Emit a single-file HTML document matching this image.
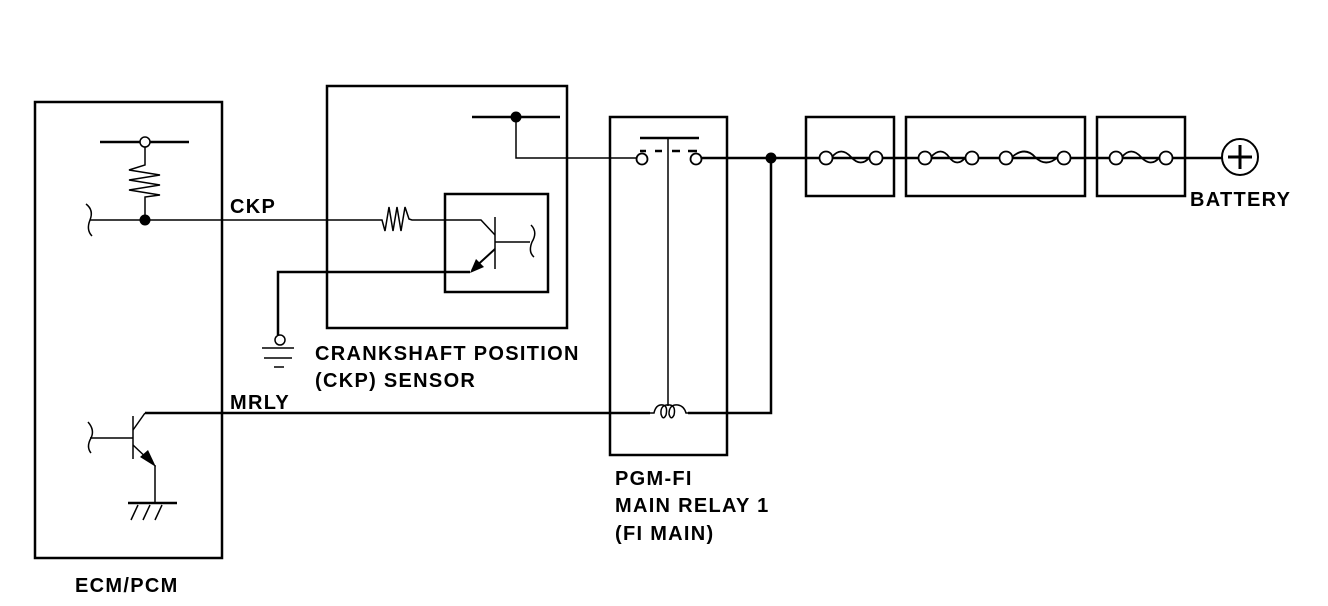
<!DOCTYPE html>
<html><head><meta charset="utf-8"><style>
html,body{margin:0;padding:0;background:#fff;}
svg{display:block;}
text{font-family:"Liberation Sans",Arial,sans-serif;font-weight:bold;font-size:20px;letter-spacing:1.3px;fill:#000;}
</style></head><body>
<svg width="1328" height="606" viewBox="0 0 1328 606" xmlns="http://www.w3.org/2000/svg">
<g fill="none" stroke="#000">
<rect x="35" y="102" width="187" height="456" stroke-width="2.5"/>
<rect x="327" y="86" width="240" height="242" stroke-width="2.5"/>
<rect x="445" y="194" width="103" height="98" stroke-width="2.5"/>
<rect x="610" y="117" width="117" height="338" stroke-width="2.5"/>
<rect x="806" y="117" width="88" height="79" stroke-width="2.5"/>
<rect x="906" y="117" width="179" height="79" stroke-width="2.5"/>
<rect x="1097" y="117" width="88" height="79" stroke-width="2.5"/>

<line x1="100" y1="142" x2="189" y2="142" stroke-width="2.5"/>
<circle cx="145" cy="142" r="5" fill="#fff" stroke-width="1.5"/>
<polyline points="145,147 145,165 129,170 160,175 129,180 160,185 129,190 160,195 145,197 145,219" stroke-width="1.5"/>
<circle cx="145" cy="220" r="5.5" fill="#000" stroke="none"/>
<line x1="90" y1="220" x2="378" y2="220" stroke-width="1.5"/>
<path d="M86,204 Q94,210 90,220 Q86,230 92,236" stroke-width="1.5"/>
<polyline points="378,220 382,220 385,231 389,207 393,231 397,207 401,231 405,207 409,219 412,220 481,220 495,235" stroke-width="1.5"/>
<line x1="495" y1="217" x2="495" y2="269" stroke-width="1.5"/>
<line x1="495" y1="242" x2="530" y2="242" stroke-width="1.5"/>
<path d="M531,225 Q538,232 532,242 Q528,252 534,257" stroke-width="1.5"/>
<line x1="495" y1="249" x2="472" y2="270" stroke-width="2"/>
<polyline points="470,272 278,272 278,335" stroke-width="2.5"/>
<circle cx="280" cy="340" r="5" fill="#fff" stroke-width="1.5"/>
<line x1="262" y1="348" x2="294" y2="348" stroke-width="1.5"/>
<line x1="264" y1="358" x2="292" y2="358" stroke-width="1.5"/>
<line x1="274" y1="367" x2="284" y2="367" stroke-width="1.5"/>
<line x1="472" y1="117" x2="560" y2="117" stroke-width="2.5"/>
<circle cx="516" cy="117" r="5.5" fill="#000" stroke="none"/>
<polyline points="516,117 516,158 636,158" stroke-width="1.5"/>
<line x1="640" y1="138" x2="699" y2="138" stroke-width="2.5"/>
<line x1="668" y1="138" x2="668" y2="406" stroke-width="1.5"/>
<circle cx="642" cy="159" r="5.5" fill="#fff" stroke-width="1.8"/>
<circle cx="696" cy="159" r="5.5" fill="#fff" stroke-width="1.8"/>
<line x1="640" y1="151" x2="646" y2="151" stroke-width="2.5"/>
<line x1="655" y1="151" x2="662" y2="151" stroke-width="2.5"/>
<line x1="672" y1="151" x2="680" y2="151" stroke-width="2.5"/>
<line x1="688" y1="151" x2="697" y2="151" stroke-width="2.5"/>
<line x1="702" y1="158" x2="1222" y2="158" stroke-width="2.5"/>
<circle cx="771" cy="158" r="5.5" fill="#000" stroke="none"/>
<polyline points="771,158 771,413 688,413" stroke-width="2.5"/>
<path d="M650,413 L654,413 Q656,404 663,405 Q668,406 666,415 Q663,421 661,414 Q660,404 670,405 Q676,406 674,415 Q671,421 669,414 Q669,404 678,405 Q684,406 686,413 L688,413" stroke-width="1.5"/>
<line x1="145" y1="413" x2="650" y2="413" stroke-width="2.5"/>
<line x1="133" y1="416" x2="133" y2="459" stroke-width="1.5"/>
<line x1="133" y1="430" x2="145" y2="413" stroke-width="1.5"/>
<line x1="90" y1="438" x2="133" y2="438" stroke-width="1.5"/>
<path d="M88,422 Q95,430 91,438 Q86,447 91,453" stroke-width="1.5"/>
<line x1="133" y1="445" x2="152" y2="463" stroke-width="1.5"/>
<polyline points="155,465 155,503" stroke-width="1.5"/>
<line x1="128" y1="503" x2="177" y2="503" stroke-width="2.5"/>
<line x1="138" y1="505" x2="131" y2="520" stroke-width="1.5"/>
<line x1="150" y1="505" x2="143" y2="520" stroke-width="1.5"/>
<line x1="162" y1="505" x2="155" y2="520" stroke-width="1.5"/>
</g>
<polygon points="470,273 476,259 484,267" fill="#000"/>
<polygon points="156,467 140,457 148,450" fill="#000"/>
<g fill="#fff" stroke="#000" stroke-width="1.8">
<path d="M832,157 Q841,146 851,157 Q861,168 870,157" fill="none"/>
<path d="M931,157 Q941,146 949,157 Q957,168 966,157" fill="none"/>
<path d="M1012,157 Q1025,146 1035,157 Q1046,168 1058,157" fill="none"/>
<path d="M1122,157 Q1131,146 1141,157 Q1151,168 1160,157" fill="none"/>
<line x1="978" y1="158" x2="1000" y2="158"/>
<circle cx="826" cy="158" r="6.5"/><circle cx="876" cy="158" r="6.5"/>
<circle cx="925" cy="158" r="6.5"/><circle cx="972" cy="158" r="6.5"/>
<circle cx="1006" cy="158" r="6.5"/><circle cx="1064" cy="158" r="6.5"/>
<circle cx="1116" cy="158" r="6.5"/><circle cx="1166" cy="158" r="6.5"/>
<circle cx="1240" cy="157" r="18" stroke-width="2"/>
</g>
<line x1="1228" y1="157" x2="1252" y2="157" stroke="#000" stroke-width="3"/>
<line x1="1240" y1="145" x2="1240" y2="169" stroke="#000" stroke-width="3"/>
<text x="230" y="213">CKP</text>
<text x="230" y="409">MRLY</text>
<text x="315" y="360">CRANKSHAFT POSITION</text>
<text x="315" y="387">(CKP) SENSOR</text>
<text x="615" y="485">PGM-FI</text>
<text x="615" y="512">MAIN RELAY 1</text>
<text x="615" y="540">(FI MAIN)</text>
<text x="75" y="592">ECM/PCM</text>
<text x="1190" y="206">BATTERY</text>
</svg>
</body></html>
